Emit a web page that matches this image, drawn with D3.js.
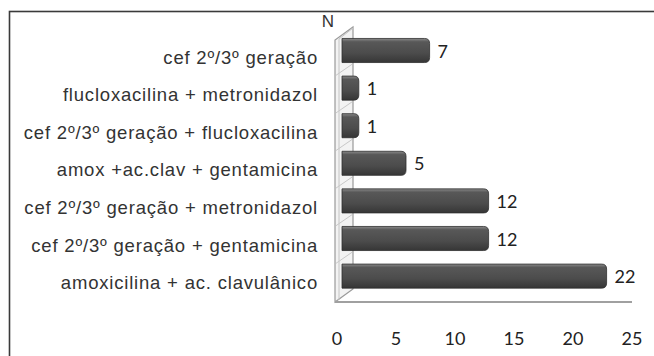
<!DOCTYPE html>
<html>
<head>
<meta charset="utf-8">
<script src="https://cdn.jsdelivr.net/npm/d3@7"></script>
<style>
  html, body { margin: 0; padding: 0; background: #fff; }
  svg { display: block; }
  .cat-label { font-family: "Liberation Sans", Arial, sans-serif; font-size: 18.5px; letter-spacing: 0.8px; fill: #333; }
  .title { font-family: "Liberation Sans", Arial, sans-serif; font-size: 17px; fill: #333; }
  .num { font-family: Lato, "Open Sans", sans-serif; font-size: 18px; fill: #222; }
</style>
</head>
<body>
<svg id="chart" width="654" height="356"></svg>
<script>
/* ---------- data ---------- */
const categories = [
  "cef 2º/3º geração",
  "flucloxacilina + metronidazol",
  "cef 2º/3º geração + flucloxacilina",
  "amox +ac.clav + gentamicina",
  "cef 2º/3º geração + metronidazol",
  "cef 2º/3º geração + gentamicina",
  "amoxicilina + ac. clavulânico"
];
const values = [7, 1, 1, 5, 12, 12, 22];
const xTicks = [0, 5, 10, 15, 20, 25];
const axisTitle = "N";

/* ---------- layout ---------- */
const svg = d3.select("#chart");
const W = 654, H = 356;
const depth = { dx: 18, dy: -13 };   // 3D offset of the back wall
const floorY = 302;

// front plane scale (tick labels) and bar scale (inside the wall)
const xFront = d3.scaleLinear().domain([0, 25]).range([337, 632]);
const xBar = d3.scaleLinear().domain([0, 25]).range([342, 342 + 25 * 11.8]);
const y = d3.scaleBand().domain(categories).range([31.7, 294.9])
  .paddingInner(0.36).paddingOuter(0.18);

// outer frame (runs off the right/bottom edges)
svg.append("rect")
  .attr("x", 9.5).attr("y", 11.5).attr("width", W + 20).attr("height", H + 20)
  .attr("fill", "none").attr("stroke", "#3a3a3a").attr("stroke-width", 1.6);

/* ---------- wall + floor ---------- */
const wx = xFront(0) - 2, wTop = 40;
const wall = svg.append("g");
wall.append("path")
  .attr("d", `M${wx},${floorY} V${wTop} l${depth.dx},${depth.dy} V${floorY + depth.dy} Z`)
  .attr("fill", "#f3f3f3").attr("stroke", "#9a9a9a").attr("stroke-width", 1.2);
wall.append("path")
  .attr("d", `M${wx + 4},${floorY - 2} V${wTop - 1} M${wx + 4},${wTop - 1} l${depth.dx - 4},${depth.dy + 2}`)
  .attr("fill", "none").attr("stroke", "#c4c4c4").attr("stroke-width", 1);

// wall gridlines at category boundaries
const bounds = categories.map(c => y(c) - y.step() * y.paddingInner() / 2).concat([floorY]);
wall.selectAll("line.grid").data(bounds.slice(1, -1)).join("line")
  .attr("class", "grid")
  .attr("x1", wx + 1).attr("y1", d => d + 6)
  .attr("x2", wx + depth.dx - 1).attr("y2", d => d + 6 + depth.dy + 2)
  .attr("stroke", "#c8c8c8").attr("stroke-width", 1);

// floor
svg.append("line")
  .attr("x1", wx).attr("x2", xFront(25)).attr("y1", floorY).attr("y2", floorY)
  .attr("stroke", "#a0a0a0").attr("stroke-width", 2);

/* ---------- bars ---------- */
const defs = svg.append("defs");
const grad = defs.append("linearGradient").attr("id", "barGrad")
  .attr("x1", 0).attr("y1", 0).attr("x2", 0).attr("y2", 1);
[["0%", "#8a8a8a"], ["14%", "#585858"], ["60%", "#4c4c4c"], ["100%", "#363636"]]
  .forEach(([o, c]) => grad.append("stop").attr("offset", o).attr("stop-color", c));

const cap = 5;
function barPath(v, cat) {
  const x0 = xBar(0), x1 = xBar(v) + cap, t = y(cat), h = y.bandwidth(), r = 5;
  return `M${x0},${t} H${x1 - r} Q${x1},${t} ${x1},${t + r} V${t + h - r} ` +
         `Q${x1},${t + h} ${x1 - r},${t + h} H${x0} Z`;
}

svg.append("g").selectAll("path").data(values).join("path")
  .attr("d", (v, i) => barPath(v, categories[i]))
  .attr("fill", "url(#barGrad)")
  .attr("stroke", "#2e2e2e").attr("stroke-width", 0.8);

// value labels
svg.append("g").selectAll("text").data(values).join("text")
  .attr("class", "num")
  .attr("x", v => xBar(v) + cap + 8)
  .attr("y", (v, i) => y(categories[i]) + y.bandwidth() / 2 + 7)
  .text(v => v);

/* ---------- category labels ---------- */
svg.append("g").selectAll("text").data(categories).join("text")
  .attr("class", "cat-label")
  .attr("x", 318).attr("text-anchor", "end")
  .attr("y", c => y(c) + y.bandwidth() / 2 + 13)
  .text(c => c);

/* ---------- x tick labels ---------- */
svg.append("g").selectAll("text").data(xTicks).join("text")
  .attr("class", "num")
  .attr("x", d => xFront(d)).attr("y", 345).attr("text-anchor", "middle")
  .text(d => d);

// axis title
svg.append("text").attr("class", "title")
  .attr("x", 328).attr("y", 27).attr("text-anchor", "middle")
  .text(axisTitle);
</script>
</body>
</html>
